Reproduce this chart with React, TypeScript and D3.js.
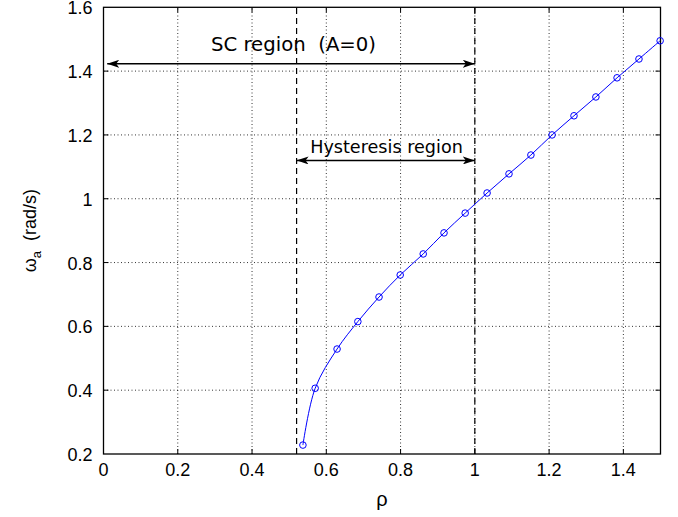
import React, { useEffect, useRef } from 'react';
import * as d3 from 'd3';

const rho = [0.537, 0.570, 0.629, 0.685, 0.742, 0.799, 0.861, 0.917, 0.974, 1.033, 1.092, 1.151, 1.208, 1.267, 1.326, 1.383, 1.442, 1.499];
const omega = [0.228, 0.406, 0.529, 0.615, 0.692, 0.761, 0.827, 0.893, 0.955, 1.018, 1.078, 1.137, 1.2, 1.26, 1.319, 1.379, 1.438, 1.495];
const xTicks = [0, 0.2, 0.4, 0.6, 0.8, 1, 1.2, 1.4];
const yTicks = [0.2, 0.4, 0.6, 0.8, 1, 1.2, 1.4, 1.6];
const regionBounds = [0.52, 1.0];
const scArrowY = 1.423;
const hystArrowY = 1.12;

const W = 678;
const H = 517;
const m = { left: 103.5, right: 17.5, top: 7.3, bottom: 63 };

const App = () => {
  const svgRef = useRef<SVGSVGElement>(null);

  useEffect(() => {
    const svg = d3.select(svgRef.current);
    svg.selectAll('*').remove();

    const x = d3.scaleLinear().domain([0, 1.5]).range([m.left, W - m.right]);
    const y = d3.scaleLinear().domain([0.2, 1.6]).range([H - m.bottom, m.top]);
    const font = '"Liberation Sans", Arial, sans-serif';

    const defs = svg.append('defs');
    ['end', 'start'].forEach(k => {
      defs.append('marker')
        .attr('id', 'arr-' + k)
        .attr('viewBox', '0 0 12 8')
        .attr('refX', k === 'end' ? 12 : 0).attr('refY', 4)
        .attr('markerWidth', 12).attr('markerHeight', 8)
        .attr('markerUnits', 'userSpaceOnUse')
        .attr('orient', 'auto')
        .append('path')
        .attr('d', k === 'end' ? 'M0,0 L12,4 L0,8 L3,4 Z' : 'M12,0 L0,4 L12,8 L9,4 Z')
        .attr('fill', '#000');
    });

    const g = svg.append('g');

    // grid
    g.selectAll('.gx').data(xTicks.slice(1)).join('line')
      .attr('x1', d => x(d)).attr('x2', d => x(d))
      .attr('y1', y(0.2)).attr('y2', y(1.6))
      .attr('stroke', '#000').attr('stroke-width', 0.8).attr('stroke-dasharray', '1,2.5');
    g.selectAll('.gy').data(yTicks.slice(1, -1)).join('line')
      .attr('x1', x(0)).attr('x2', x(1.5))
      .attr('y1', d => y(d)).attr('y2', d => y(d))
      .attr('stroke', '#000').attr('stroke-width', 0.8).attr('stroke-dasharray', '1,2.5');

    // tick marks inside
    g.selectAll('.tx').data(xTicks.slice(1)).join('line')
      .attr('x1', d => x(d)).attr('x2', d => x(d))
      .attr('y1', y(0.2)).attr('y2', y(0.2) - 5)
      .attr('stroke', '#000');
    g.selectAll('.tx2').data(xTicks.slice(1)).join('line')
      .attr('x1', d => x(d)).attr('x2', d => x(d))
      .attr('y1', y(1.6)).attr('y2', y(1.6) + 5)
      .attr('stroke', '#000');
    g.selectAll('.ty').data(yTicks.slice(1, -1)).join('line')
      .attr('x1', x(0)).attr('x2', x(0) + 5)
      .attr('y1', d => y(d)).attr('y2', d => y(d))
      .attr('stroke', '#000');
    g.selectAll('.ty2').data(yTicks.slice(1, -1)).join('line')
      .attr('x1', x(1.5)).attr('x2', x(1.5) - 5)
      .attr('y1', d => y(d)).attr('y2', d => y(d))
      .attr('stroke', '#000');

    // region boundaries
    g.selectAll('.rb').data(regionBounds).join('line')
      .attr('x1', d => x(d)).attr('x2', d => x(d))
      .attr('y1', y(0.2)).attr('y2', y(1.6))
      .attr('stroke', '#000').attr('stroke-width', 1.2).attr('stroke-dasharray', '6,4');

    // frame
    g.append('rect')
      .attr('x', x(0)).attr('y', y(1.6))
      .attr('width', x(1.5) - x(0)).attr('height', y(0.2) - y(1.6))
      .attr('fill', 'none').attr('stroke', '#000').attr('stroke-width', 1.3);

    // arrows
    g.append('line')
      .attr('x1', x(0.01)).attr('x2', x(regionBounds[1]))
      .attr('y1', y(scArrowY)).attr('y2', y(scArrowY))
      .attr('stroke', '#000').attr('stroke-width', 1.5)
      .attr('marker-start', 'url(#arr-start)').attr('marker-end', 'url(#arr-end)');
    g.append('line')
      .attr('x1', x(regionBounds[0])).attr('x2', x(regionBounds[1]))
      .attr('y1', y(hystArrowY)).attr('y2', y(hystArrowY))
      .attr('stroke', '#000').attr('stroke-width', 1.5)
      .attr('marker-start', 'url(#arr-start)').attr('marker-end', 'url(#arr-end)');

    g.append('text')
      .attr('x', 293.5).attr('y', 51)
      .attr('text-anchor', 'middle')
      .style('font-family', '"DejaVu Sans", sans-serif').style('font-size', '19.7px')
      .style('white-space', 'pre')
      .text('SC region  (A=0)');
    g.append('text')
      .attr('x', 386.5).attr('y', 153)
      .attr('text-anchor', 'middle')
      .style('font-family', '"DejaVu Sans", sans-serif').style('font-size', '17.6px')
      .text('Hysteresis region');

    // curve
    const pts = rho.map((r, i) => [r, omega[i]] as [number, number]);
    g.append('path')
      .datum(pts)
      .attr('d', d3.line<[number, number]>().x(d => x(d[0])).y(d => y(d[1])).curve(d3.curveCatmullRom.alpha(0.5)))
      .attr('fill', 'none').attr('stroke', '#0000ff').attr('stroke-width', 1);
    g.selectAll('.pt').data(pts).join('circle')
      .attr('cx', d => x(d[0])).attr('cy', d => y(d[1])).attr('r', 3.3)
      .attr('fill', 'none').attr('stroke', '#0000ff').attr('stroke-width', 1);

    // tick labels
    g.selectAll('.xl').data(xTicks).join('text')
      .attr('x', d => x(d)).attr('y', y(0.2) + 22)
      .attr('text-anchor', 'middle')
      .style('font-family', font).style('font-size', '18px')
      .text(d => d3.format('')(d));
    g.selectAll('.yl').data(yTicks).join('text')
      .attr('x', x(0) - 11).attr('y', d => y(d) + 7)
      .attr('text-anchor', 'end')
      .style('font-family', font).style('font-size', '18px')
      .text(d => d3.format('')(d));

    // axis labels
    g.append('text')
      .attr('x', x(0.75)).attr('y', 506)
      .attr('text-anchor', 'middle')
      .style('font-family', font).style('font-size', '20px')
      .text('ρ');
    const yl = g.append('text')
      .attr('transform', `translate(36,${(y(0.2) + y(1.6)) / 2}) rotate(-90)`)
      .attr('text-anchor', 'middle')
      .style('font-family', font).style('font-size', '18px')
      .style('white-space', 'pre');
    yl.append('tspan').text('ω');
    yl.append('tspan').attr('dy', 5).style('font-size', '13px').text('a');
    yl.append('tspan').attr('dy', -5).text('  (rad/s)');
  }, []);

  return (
    <svg ref={svgRef} width={W} height={H} style={{ position: 'absolute', left: 0, top: 0, background: '#fff' }} />
  );
};

export default App;
